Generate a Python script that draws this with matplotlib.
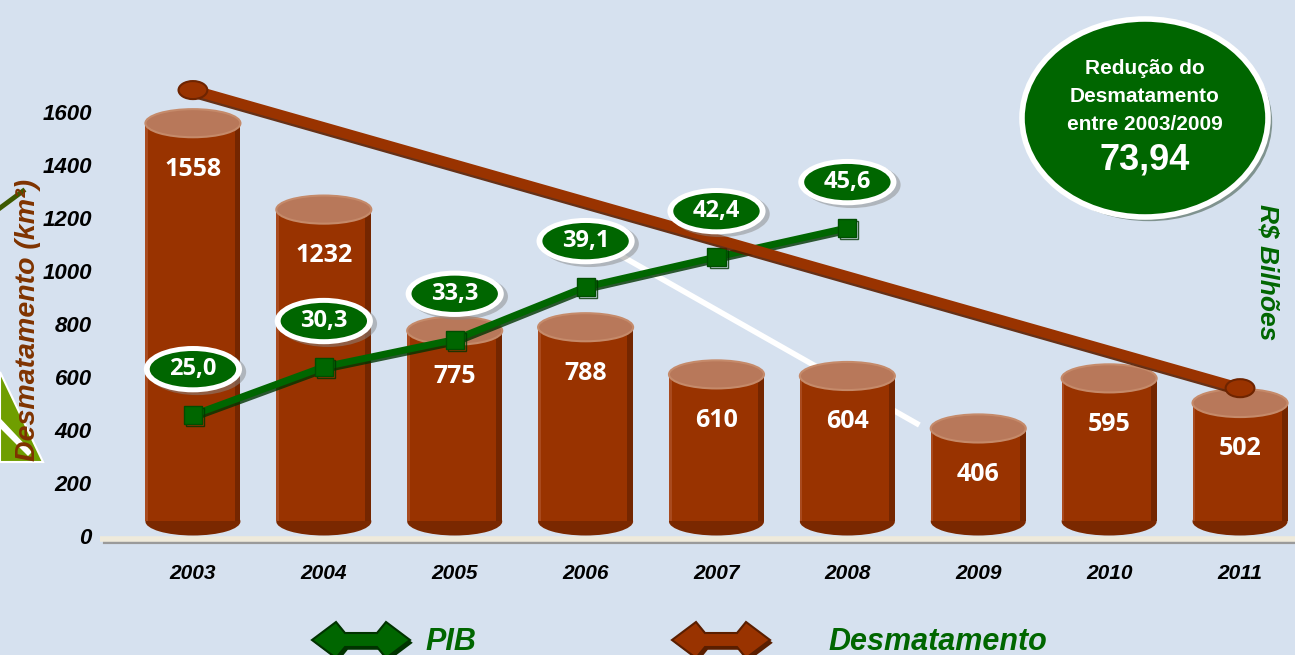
import matplotlib
matplotlib.use('Agg')
import matplotlib.pyplot as plt
import matplotlib.patheffects as pe
from matplotlib.patches import Ellipse, Rectangle, Polygon
from matplotlib.transforms import offset_copy

# data
anos = ['2003', '2004', '2005', '2006', '2007', '2008', '2009', '2010', '2011']
desmatamento = [1558, 1232, 775, 788, 610, 604, 406, 595, 502]
pib = [25.0, 30.3, 33.3, 39.1, 42.4, 45.6]
pib_labels = ['25,0', '30,3', '33,3', '39,1', '42,4', '45,6']
tendencia = [1683, 558]          # trend line endpoints, 2003 -> 2011
branca_x = [3.22, 5.55]          # white guide line
branca_y = [1072, 419]
yticks = [0, 200, 400, 600, 800, 1000, 1200, 1400, 1600]

BG = '#d6e1ef'
BROWN = '#993300'
GREEN = '#006600'
W, H = 1295, 655


def fxy(x, y):
    # pixel (from top-left) -> figure fraction
    return x / W, 1 - y / H


fig = plt.figure(figsize=(W / 100, H / 100), dpi=100, facecolor=BG)
ax = fig.add_axes([100 / W, 0, 1195 / W, 1])
ax.set_facecolor('none')
ax.set_xlim(-0.71, 8.42)
ax.set_ylim(-449, 2023)
for s in ax.spines.values():
    s.set_visible(False)
ax.set_xticks([])
ax.set_yticks(yticks)
ax.set_yticklabels([str(t) for t in yticks], fontfamily='Liberation Sans',
                   fontweight='bold', fontstyle='italic', fontsize=16)
ax.tick_params(axis='y', length=0, pad=6)

# floor
ax.axhline(-22, xmin=0.004, color='#9a9a9a', lw=3, zorder=0.5)
ax.axhline(-10, xmin=0.0, color='#efeadb', lw=4, zorder=0.6)

# white guide line (behind bars)
ax.plot(branca_x, branca_y, color='white', lw=4, zorder=0.8, solid_capstyle='butt')

# cylinders
bw = 0.726
eh = 106
for i, v in enumerate(desmatamento):
    base = 55
    ax.add_patch(Ellipse((i, base), bw, eh, fc='#7a2800', ec='none', zorder=1))
    ax.add_patch(Rectangle((i - bw / 2, base), bw, v - base, fc=BROWN, ec='none', zorder=1.1))
    ax.add_patch(Rectangle((i + bw / 2 - 0.045, base), 0.045, v - base, fc='#742600', ec='none', zorder=1.2))
    ax.add_patch(Rectangle((i - bw / 2, base), 0.02, v - base, fc='#a94a1e', ec='none', zorder=1.2))
    ax.add_patch(Ellipse((i, v), bw, eh, fc='#b8785a', ec='#c58a6a', lw=1.5, zorder=1.3))
    ax.annotate(str(v), (i, v), xytext=(0, -33), textcoords='offset points',
                ha='center', va='center', color='white', fontsize=18,
                fontfamily='Open Sans', fontweight='bold', zorder=2)

# year labels
for i, a in enumerate(anos):
    ax.text(i, -140, a, ha='center', va='center', fontsize=15, fontweight='bold',
            fontstyle='italic', fontfamily='Liberation Sans')

# PIB on secondary scale
ax2 = ax.twinx()
ax2.set_ylim(-1.43, 70.7)
ax2.set_yticks([])
for s in ax2.spines.values():
    s.set_visible(False)
xs = list(range(len(pib)))
ax2.plot(xs, pib, color=GREEN, lw=5, marker='s', ms=13, mfc=GREEN, mec='#004d00', zorder=3,
         path_effects=[pe.SimpleLineShadow(offset=(1.5, -1.5), shadow_color='#003300', alpha=0.8), pe.Normal()])

# trend line (drawn on top, in deforestation units)
ax2.plot([0, len(anos) - 1], tendencia, color=BROWN, lw=7.5, solid_capstyle='butt', zorder=4,
         transform=ax.transData,
         path_effects=[pe.SimpleLineShadow(offset=(1, -2), shadow_color='#5a1e00', alpha=0.9), pe.Normal()])
for x, y in zip([0, len(anos) - 1], tendencia):
    ax2.add_patch(Ellipse((x, y), 0.22, 68, fc=BROWN, ec='#6e2400', lw=1.5, zorder=4.1,
                          transform=ax.transData))

# PIB ovals
tr_sh = offset_copy(ax2.transData, fig=fig, x=3, y=31, units='points')
tr_ov = offset_copy(ax2.transData, fig=fig, x=0, y=33, units='points')
for x, v, lab in zip(xs, pib, pib_labels):
    ax2.add_patch(Ellipse((x, v), 0.75, 5.1, fc='#8a8a8a', alpha=0.5, ec='none', zorder=5, transform=tr_sh))
    ax2.add_patch(Ellipse((x, v), 0.75, 5.1, fc='white', ec='none', zorder=5.1, transform=tr_ov))
    ax2.add_patch(Ellipse((x, v), 0.66, 4.0, fc=GREEN, ec='none', zorder=5.2, transform=tr_ov))
    ax2.annotate(lab, (x, v), xytext=(0, 33), textcoords='offset points', ha='center', va='center',
                 color='white', fontsize=17, fontfamily='Open Sans', fontweight='bold', zorder=6)

# green summary ellipse
el = Ellipse(fxy(1145, 118), 246 / W, 198 / H, transform=fig.transFigure, fc=GREEN, ec='white', lw=4,
             zorder=10)
el.set_path_effects([pe.SimplePatchShadow(offset=(3, -3), alpha=0.4), pe.Normal()])
fig.add_artist(el)
for txt, y, fs in [('Redução do', 68, 15), ('Desmatamento', 97, 15), ('entre 2003/2009', 125, 15),
                   ('73,94', 160, 26)]:
    fig.text(*fxy(1145, y), txt, ha='center', va='center', color='white', fontsize=fs,
             fontweight='bold', fontfamily='Liberation Sans', zorder=11)

# side labels
fig.text(*fxy(1268, 272), 'R$ Bilhões', rotation=270, ha='center', va='center', color=GREEN,
         fontsize=19, fontweight='bold', fontstyle='italic', fontfamily='Liberation Sans')
fig.text(*fxy(28, 320), 'Desmatamento (km²)', rotation=90, ha='center', va='center', color='#7f3300',
         fontsize=20.5, fontweight='bold', fontstyle='italic', fontfamily='Liberation Sans', zorder=5)

# left decoration
fig.add_artist(Polygon([fxy(0, 372), fxy(43, 462), fxy(0, 462)], closed=True, transform=fig.transFigure,
                       fc='#6f9e00', ec='white', lw=1.5, zorder=2))
fig.add_artist(Polygon([fxy(0, 418), fxy(32, 452), fxy(28, 456), fxy(0, 428)], closed=True,
                       transform=fig.transFigure, fc='white', ec='none', zorder=2.1))
fig.add_artist(plt.Line2D([0, 23 / W], [1 - 208 / H, 1 - 191 / H], transform=fig.transFigure,
                          color='#3d5a00', lw=3.5))


# legend
def seta(cx, cy, fc, dark):
    w, hh, h, b = 49, 18, 24, 7
    pts = [(-w, 0), (-w + h, -hh), (-w + h + 9, -b), (w - h - 9, -b), (w - h, -hh), (w, 0),
           (w - h, hh), (w - h - 9, b), (-w + h + 9, b), (-w + h, hh)]
    poly = Polygon([fxy(cx + x, cy + y) for x, y in pts], closed=True, transform=fig.transFigure,
                   fc=fc, ec=dark, lw=1.5)
    poly.set_path_effects([pe.SimplePatchShadow(offset=(2, -2), shadow_rgbFace=dark, alpha=1), pe.Normal()])
    fig.add_artist(poly)


seta(361, 640, GREEN, '#003300')
seta(721, 640, BROWN, '#5a1e00')
fig.text(*fxy(425, 642), 'PIB', ha='left', va='center', color=GREEN, fontsize=22, fontweight='bold',
         fontstyle='italic', fontfamily='Liberation Sans')
fig.text(*fxy(828, 642), 'Desmatamento', ha='left', va='center', color=GREEN, fontsize=22,
         fontweight='bold', fontstyle='italic', fontfamily='Liberation Sans')

fig.savefig('out.png', dpi=100, facecolor=BG)
